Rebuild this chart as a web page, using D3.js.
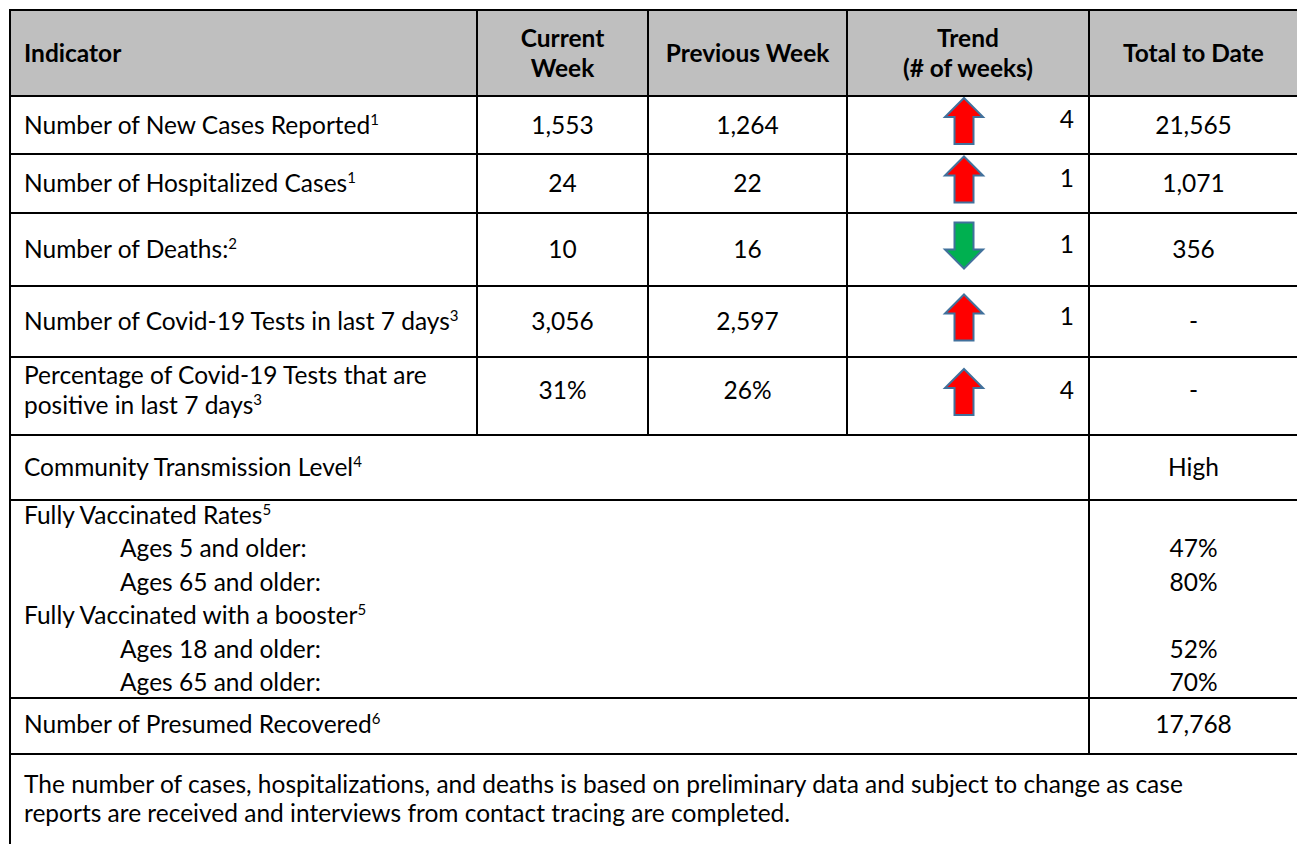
<!DOCTYPE html>
<html lang="en">
<head>
  <meta charset="UTF-8">
  <title>Weekly Covid-19 Indicators</title>
  <script src="https://d3js.org/d3.v7.min.js"></script>
  <style>
    body {
      margin: 0;
      background: #fff;
    }
    svg {
      display: block;
      font-family: Lato, "Open Sans", sans-serif;
      font-size: 24.5px;
      fill: #000;
    }
    .head {
      font-weight: bold;
    }
    .grid {
      stroke: #000;
      stroke-width: 2;
    }
    .arrow {
      stroke: #41719c;
      stroke-width: 2;
    }
  </style>
</head>
<body>
  <svg width="1297" height="844"></svg>
  <script>
    // table content
    const headers = ["Indicator", "Current|Week", "Previous Week", "Trend|(# of weeks)", "Total to Date"];
    const indicators = [
      "Number of New Cases Reported",
      "Number of Hospitalized Cases",
      "Number of Deaths:",
      "Number of Covid-19 Tests in last 7 days",
      "Percentage of Covid-19 Tests that are|positive in last 7 days"
    ];
    const indicatorNotes = ["1", "1", "2", "3", "3"];
    const currentWeek = ["1,553", "24", "10", "3,056", "31%"];
    const previousWeek = ["1,264", "22", "16", "2,597", "26%"];
    const trendDirection = ["up", "up", "down", "up", "up"];
    const trendWeeks = ["4", "1", "1", "1", "4"];
    const totalToDate = ["21,565", "1,071", "356", "-", "-"];

    const transmissionLabel = "Community Transmission Level";
    const transmissionNote = "4";
    const transmissionLevel = "High";

    const vaccineLines = [
      {text: "Fully Vaccinated Rates", note: "5", indent: false, value: ""},
      {text: "Ages 5 and older:", note: "", indent: true, value: "47%"},
      {text: "Ages 65 and older:", note: "", indent: true, value: "80%"},
      {text: "Fully Vaccinated with a booster", note: "5", indent: false, value: ""},
      {text: "Ages 18 and older:", note: "", indent: true, value: "52%"},
      {text: "Ages 65 and older:", note: "", indent: true, value: "70%"}
    ];

    const recoveredLabel = "Number of Presumed Recovered";
    const recoveredNote = "6";
    const recoveredTotal = "17,768";

    const noteLines = [
      "The number of cases, hospitalizations, and deaths is based on preliminary data and subject to change as case",
      "reports are received and interviews from contact tracing are completed."
    ];

    // layout
    const colEdges = [10, 477, 648, 847, 1089, 1298];
    const rowHeights = [86, 58, 59, 73, 71, 78, 65, 198, 56, 100];
    const rowEdges = [10, ...d3.cumsum(rowHeights).map(d => d + 10)];

    const svg = d3.select("svg");

    const col = d3.scaleOrdinal()
      .domain(["indicator", "current", "previous", "trend", "total"])
      .range(colEdges.slice(0, 5));
    const colRight = d3.scaleOrdinal()
      .domain(col.domain())
      .range(colEdges.slice(1));
    const colMid = k => (col(k) + colRight(k)) / 2;

    const rowTop = i => rowEdges[i];
    const rowMid = i => (rowEdges[i] + rowEdges[i + 1]) / 2;

    const padX = 14;
    const lineGap = 30;

    // header background
    svg.append("rect")
      .attr("x", colEdges[0]).attr("y", rowTop(0))
      .attr("width", colEdges[5] - colEdges[0])
      .attr("height", rowHeights[0])
      .attr("fill", "#bfbfbf");

    function addText(x, y, str, note, anchor, cls) {
      const t = svg.append("text")
        .attr("x", x).attr("y", y)
        .attr("text-anchor", anchor || "start");
      if (cls) t.attr("class", cls);
      t.append("tspan").text(str);
      if (note) {
        t.append("tspan")
          .attr("dy", -9)
          .attr("font-size", 15)
          .text(note);
      }
      return t;
    }

    // headers
    headers.forEach((h, i) => {
      const key = col.domain()[i];
      const lines = h.split("|");
      const x = i === 0 ? col(key) + padX : colMid(key);
      const anchor = i === 0 ? "start" : "middle";
      if (lines.length === 1) {
        addText(x, rowMid(0) + 9, lines[0], "", anchor, "head");
      } else {
        addText(x, rowMid(0) - 6, lines[0], "", anchor, "head");
        addText(x, rowMid(0) - 6 + lineGap, lines[1], "", anchor, "head");
      }
    });

    // indicator rows
    indicators.forEach((label, i) => {
      const r = i + 1;
      const lines = label.split("|");
      let valueY = rowMid(r) + 8.5;
      if (lines.length === 1) {
        addText(col("indicator") + padX, valueY, lines[0], indicatorNotes[i]);
      } else {
        const y0 = rowTop(r) + 27;
        addText(col("indicator") + padX, y0, lines[0], "");
        addText(col("indicator") + padX, y0 + lineGap, lines[1], indicatorNotes[i]);
        valueY = y0 + lineGap / 2;
      }
      addText(colMid("current"), valueY, currentWeek[i], "", "middle");
      addText(colMid("previous"), valueY, previousWeek[i], "", "middle");
      addText(colMid("total"), valueY, totalToDate[i], "", "middle");
      addText(colRight("trend") - 15, rowMid(r) + 3, trendWeeks[i], "", "end");
    });

    // block arrows for the trend column
    const arrowW = 38, arrowH = 46, shaftW = 19, headH = 19;
    const upArrow = [
      [0, -arrowH / 2], [arrowW / 2, -arrowH / 2 + headH], [shaftW / 2, -arrowH / 2 + headH],
      [shaftW / 2, arrowH / 2], [-shaftW / 2, arrowH / 2], [-shaftW / 2, -arrowH / 2 + headH],
      [-arrowW / 2, -arrowH / 2 + headH]
    ];
    const arrowLine = d3.line().curve(d3.curveLinearClosed);

    svg.selectAll(".arrow")
      .data(trendDirection)
      .join("path")
      .attr("class", "arrow")
      .attr("d", arrowLine(upArrow))
      .attr("fill", d => d === "up" ? "#ff0000" : "#00b050")
      .attr("transform", (d, i) =>
        `translate(${colMid("trend") - 4},${rowMid(i + 1) - 4})` + (d === "up" ? "" : " rotate(180)"));

    // community transmission
    addText(col("indicator") + padX, rowMid(6) + 8, transmissionLabel, transmissionNote);
    addText(colMid("total"), rowMid(6) + 8, transmissionLevel, "", "middle");

    // vaccination block
    const vacPitch = 33.4;
    vaccineLines.forEach((v, j) => {
      const y = rowTop(7) + 24 + j * vacPitch;
      addText(col("indicator") + (v.indent ? 110 : padX), y, v.text, v.note);
      if (v.value) addText(colMid("total"), y, v.value, "", "middle");
    });

    // presumed recovered
    addText(col("indicator") + padX, rowMid(8) + 7, recoveredLabel, recoveredNote);
    addText(colMid("total"), rowMid(8) + 7, recoveredTotal, "", "middle");

    // footnote text
    noteLines.forEach((t, j) => {
      addText(col("indicator") + padX, rowTop(9) + 39 + j * 29, t, "");
    });

    // grid lines
    const hLines = rowEdges.slice(0, 10).map(y => ({x1: colEdges[0], x2: colEdges[5], y1: y, y2: y}));
    const vLines = [
      {x: colEdges[0], y1: rowEdges[0], y2: 844},
      {x: colEdges[5], y1: rowEdges[0], y2: 844},
      {x: colEdges[1], y1: rowEdges[0], y2: rowEdges[6]},
      {x: colEdges[2], y1: rowEdges[0], y2: rowEdges[6]},
      {x: colEdges[3], y1: rowEdges[0], y2: rowEdges[6]},
      {x: colEdges[4], y1: rowEdges[0], y2: rowEdges[9]}
    ].map(d => ({x1: d.x, x2: d.x, y1: d.y1, y2: d.y2}));

    svg.selectAll(".grid")
      .data([...hLines, ...vLines])
      .join("line")
      .attr("class", "grid")
      .attr("x1", d => d.x1).attr("x2", d => d.x2)
      .attr("y1", d => d.y1).attr("y2", d => d.y2)
      .attr("stroke-linecap", "square");
  </script>
</body>
</html>
